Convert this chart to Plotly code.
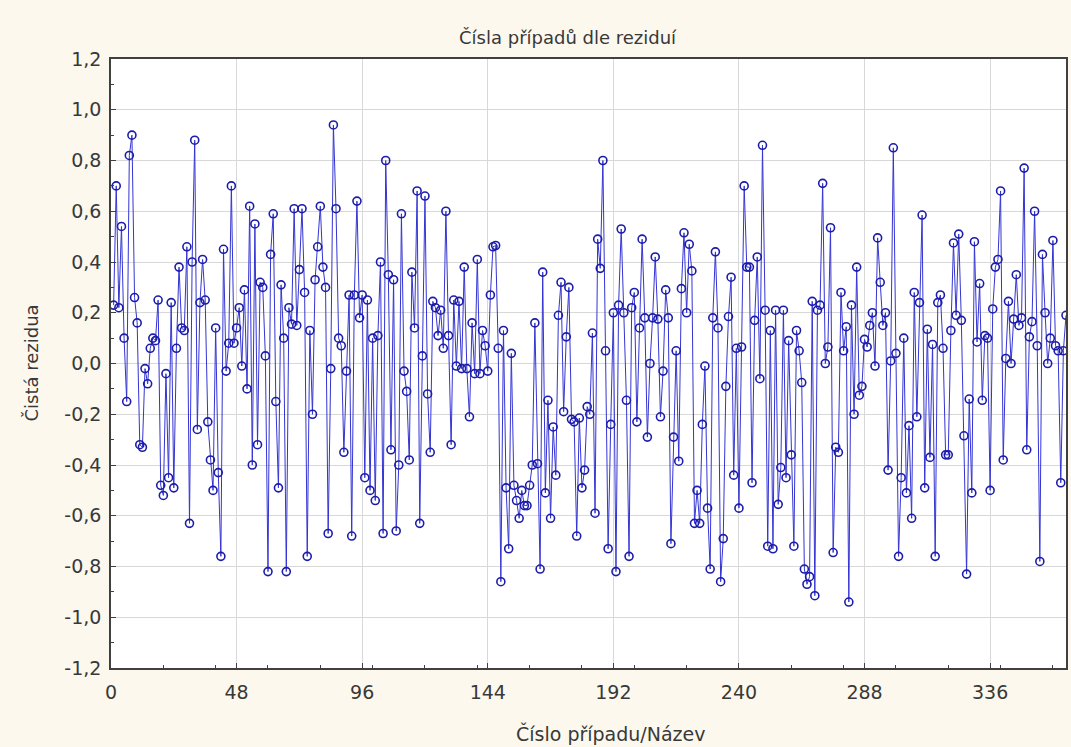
import plotly.graph_objects as go

# Residual values, in case order
residuals = [
    0.23, 0.70, 0.22, 0.54, 0.10, -0.15, 0.82, 0.90, 0.26, 0.16,
    -0.32, -0.33, -0.02, -0.08, 0.06, 0.10, 0.09, 0.25, -0.48, -0.52,
    -0.04, -0.45, 0.24, -0.49, 0.06, 0.38, 0.14, 0.13, 0.46, -0.63,
    0.40, 0.88, -0.26, 0.24, 0.41, 0.25, -0.23, -0.38, -0.50, 0.14,
    -0.43, -0.76, 0.45,
    -0.03, 0.08, 0.70, 0.08, 0.14, 0.22, -0.01, 0.29, -0.10, 0.62,
    -0.40, 0.55, -0.32, 0.32, 0.30, 0.03, -0.82, 0.43, 0.59, -0.15,
    -0.49, 0.31, 0.10, -0.82, 0.22, 0.155, 0.61, 0.15, 0.37, 0.61,
    0.28, -0.76, 0.13, -0.20, 0.33, 0.46, 0.62, 0.38, 0.30, -0.67,
    -0.02, 0.94,
    0.61, 0.10, 0.07, -0.35, -0.03, 0.27, -0.68, 0.27, 0.64, 0.18,
    0.27, -0.45, 0.25, -0.50, 0.10, -0.54, 0.11, 0.40, -0.67, 0.80,
    0.35, -0.34, 0.33, -0.66, -0.40, 0.59, -0.03, -0.11, -0.38, 0.36,
    0.14, 0.68, -0.63, 0.03, 0.66, -0.12, -0.35, 0.245, 0.22, 0.11,
    0.21, 0.06, 0.60,
    0.11, -0.32, 0.25, -0.01, 0.245, -0.02, 0.38, -0.02, -0.21, 0.16,
    -0.04, 0.41, -0.04, 0.13, 0.07, -0.03, 0.27, 0.46, 0.465, 0.06,
    -0.86, 0.13, -0.49, -0.73, 0.04, -0.48, -0.54, -0.61, -0.50, -0.56,
    -0.56, -0.48, -0.40, 0.16, -0.395, -0.81, 0.36, -0.51, -0.145, -0.61,
    -0.25, -0.44,
    0.19, 0.32, -0.19, 0.105, 0.30, -0.22, -0.23, -0.68, -0.215, -0.49,
    -0.42, -0.17, -0.20, 0.12, -0.59, 0.49, 0.375, 0.80, 0.05, -0.73,
    -0.24, 0.20, -0.82, 0.23, 0.53, 0.20, -0.145, -0.76, 0.22, 0.28,
    -0.23, 0.14, 0.49, 0.18, -0.29, 0.0, 0.18, 0.42,
    0.175, -0.21, -0.03, 0.29, 0.18, -0.71, -0.29, 0.05, -0.385, 0.295,
    0.515, 0.20, 0.47, 0.365, -0.63, -0.50, -0.63, -0.24, -0.01, -0.57,
    -0.81, 0.18, 0.44, 0.14, -0.86, -0.69, -0.09, 0.185, 0.34, -0.44,
    0.06, -0.57, 0.065, 0.70, 0.38, 0.38, -0.47, 0.17, 0.42, -0.06,
    0.86, 0.21,
    -0.72, 0.13, -0.73, 0.21, -0.555, -0.41, 0.21, -0.45, 0.09, -0.36,
    -0.72, 0.13, 0.05, -0.075, -0.81, -0.87, -0.84, 0.245, -0.915, 0.21,
    0.23, 0.71, 0.0, 0.065, 0.535, -0.745, -0.33, -0.35, 0.28, 0.05,
    0.145, -0.94, 0.23, -0.20, 0.38, -0.125, -0.09, 0.095,
    0.065, 0.15, 0.20, -0.01, 0.495, 0.32, 0.15, 0.20, -0.42, 0.01,
    0.85, 0.04, -0.76, -0.45, 0.10, -0.51, -0.245, -0.61, 0.28, -0.21,
    0.24, 0.585, -0.49, 0.135, -0.37, 0.075, -0.76, 0.24, 0.27, 0.06,
    -0.36, -0.36, 0.13, 0.475, 0.19, 0.51, 0.17, -0.285, -0.83, -0.14,
    -0.51, 0.48,
    0.085, 0.315, -0.145, 0.11, 0.10, -0.50, 0.215, 0.38, 0.41, 0.68,
    -0.38, 0.02, 0.245, 0.0, 0.175, 0.35, 0.15, 0.18, 0.77, -0.34,
    0.105, 0.165, 0.60, 0.07, -0.78, 0.43, 0.20, 0.0, 0.10, 0.485,
    0.07, 0.05, -0.47, 0.05, 0.19,
]
case_numbers = list(range(1, len(residuals) + 1))

x_tick_values = [0, 48, 96, 144, 192, 240, 288, 336]
x_tick_labels = ["0", "48", "96", "144", "192", "240", "288", "336"]
y_tick_values = [-1.2, -1.0, -0.8, -0.6, -0.4, -0.2, 0.0, 0.2, 0.4, 0.6, 0.8, 1.0, 1.2]
y_tick_labels = ["-1,2", "-1,0", "-0,8", "-0,6", "-0,4", "-0,2", "0,0",
                 "0,2", "0,4", "0,6", "0,8", "1,0", "1,2"]

title_text = "Čísla případů dle reziduí"
x_title = "Číslo případu/Název"
y_title = "Čistá rezidua"

FONT = "DejaVu Sans, Verdana, sans-serif"
TXT = "#383838"

# plot area in pixels
L, R, T, B = 111, 1068, 59, 668
W, H = 1071, 747

fig = go.Figure()
fig.add_trace(go.Scatter(
    x=case_numbers, y=residuals, mode="lines+markers",
    line=dict(color="#3434d4", width=1),
    marker=dict(symbol="circle-open", size=8, color="#1c1caa",
                line=dict(width=1.6, color="#1c1caa")),
    showlegend=False, hoverinfo="x+y",
))

axis_common = dict(
    showline=True, linecolor="#404040", linewidth=1.5, mirror=True,
    showgrid=True, gridcolor="#d8d8d8", gridwidth=1,
    ticks="inside", ticklen=5, tickcolor="#404040", tickwidth=1,
    zeroline=False,
    tickfont=dict(family=FONT, size=19, color=TXT),
)

fig.update_layout(
    width=W, height=H,
    paper_bgcolor="#fcf8ee", plot_bgcolor="#ffffff",
    margin=dict(l=L, r=W - R, t=T, b=H - B),
    font=dict(family=FONT, color=TXT),
    xaxis=dict(
        range=[0, 365], tickmode="array", tickvals=x_tick_values,
        ticktext=x_tick_labels, ticklabelstandoff=6,
        minor=dict(ticks="inside", ticklen=3, tickcolor="#404040", nticks=5, showgrid=False),
        **axis_common,
    ),
    yaxis=dict(
        range=[-1.2, 1.2], tickmode="array", tickvals=y_tick_values,
        ticktext=y_tick_labels, ticklabelstandoff=4,
        minor=dict(ticks="inside", ticklen=3, tickcolor="#404040", dtick=0.1, showgrid=False),
        **axis_common,
    ),
    annotations=[
        dict(text=title_text, xref="paper", yref="paper",
             x=(569 - L) / (R - L), y=1.0, yshift=T - 37,
             xanchor="center", yanchor="middle", showarrow=False,
             font=dict(family=FONT, size=18, color=TXT)),
        dict(text=x_title, xref="paper", yref="paper",
             x=(612 - L) / (R - L), y=0.0, yshift=-(733 - B),
             xanchor="center", yanchor="middle", showarrow=False,
             font=dict(family=FONT, size=19, color=TXT)),
        dict(text=y_title, xref="paper", yref="paper",
             x=0.0, xshift=-(L - 31), y=0.5, textangle=-90,
             xanchor="center", yanchor="middle", showarrow=False,
             font=dict(family=FONT, size=18, color=TXT)),
    ],
)

fig.write_html("out.html")
